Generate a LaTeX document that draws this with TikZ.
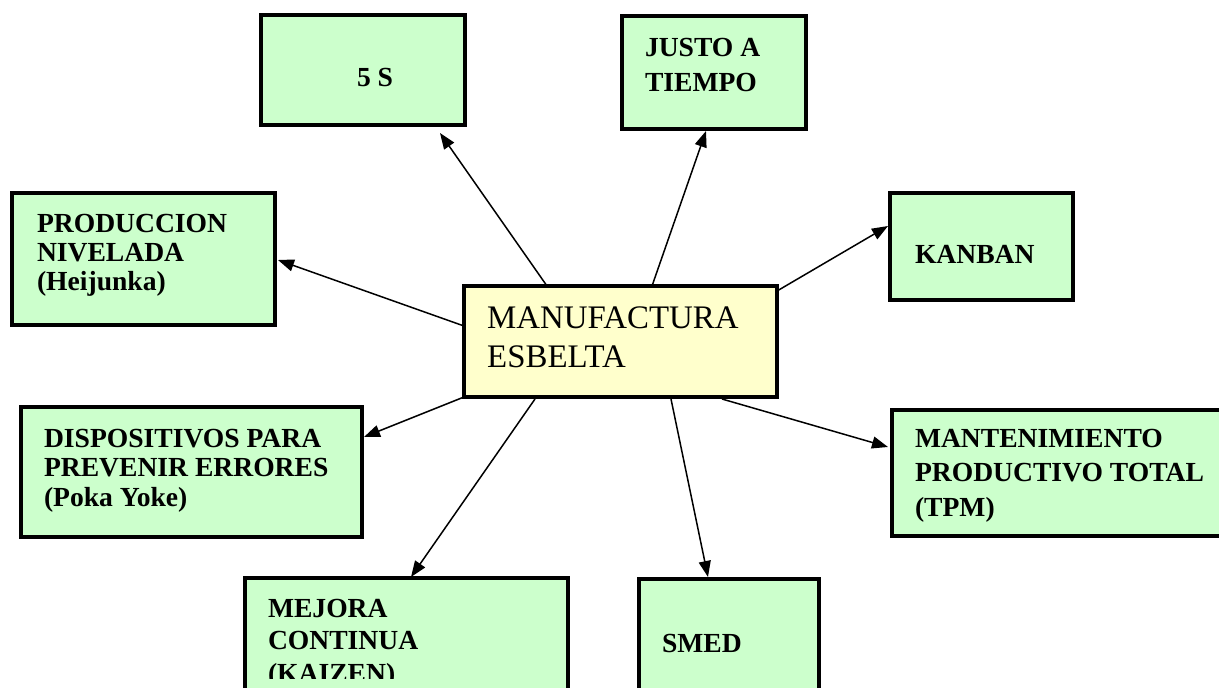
\documentclass[tikz,border=0pt]{standalone}
\usepackage{fontspec}
\setmainfont{Liberation Serif}
\usetikzlibrary{arrows.meta,calc}
\definecolor{boxgreen}{HTML}{CCFFCC}
\definecolor{boxyellow}{HTML}{FFFFCC}
% stacked lines whose baseline is the first line's baseline
\newcommand{\stackedtext}[2]{{\fontsize{27.7}{#1}\selectfont\bfseries\vtop{#2}}}
\begin{document}
\begin{tikzpicture}[x=1bp,y=-1bp,
  conceptbox/.style={draw=black,line width=4bp,fill=boxgreen,rectangle,inner sep=0pt,outer sep=0pt},
  hubbox/.style={conceptbox,fill=boxyellow},
  boxlabel/.style={anchor=base west,inner sep=0pt,outer sep=0pt,font=\fontsize{27.7}{30}\selectfont\bfseries},
  link/.style={line width=1.5bp,-{Triangle[length=16bp,width=12bp]}}]
\useasboundingbox (0,0) rectangle (1219,688);
\clip (0,0) rectangle (1219,688);

% boxes
\node[conceptbox,minimum width=204bp,minimum height=110bp] (b5s) at (363,70) {};
\node[conceptbox,minimum width=184bp,minimum height=113bp] (bjit) at (714,72.5) {};
\node[conceptbox,minimum width=263bp,minimum height=132bp] (bprod) at (143.5,259) {};
\node[conceptbox,minimum width=183bp,minimum height=107bp] (bkan) at (981.5,246.5) {};
\node[hubbox,minimum width=313bp,minimum height=111bp] (ctr) at (620.5,341.5) {};
\node[conceptbox,minimum width=341bp,minimum height=130bp] (bdisp) at (191.5,472) {};
\node[conceptbox,minimum width=338bp,minimum height=126bp] (btpm) at (1061,473) {};
\node[conceptbox,minimum width=323bp,minimum height=122bp] (bmej) at (406.5,639) {};
\node[conceptbox,minimum width=180bp,minimum height=121bp] (bsmed) at (729,639.5) {};

% labels
\node[boxlabel] (t5s) at (357,87) {5 S};
\node[boxlabel] (tjit) at (645,57) {\stackedtext{35}{\hbox{JUSTO A}\hbox{TIEMPO}}};
\node[boxlabel] (tprod) at (37,233) {\stackedtext{29}{\hbox{PRODUCCION}\hbox{NIVELADA}\hbox{(Heijunka)}}};
\node[boxlabel] (tkan) at (915,263) {KANBAN};
\node[anchor=base west,inner sep=0pt] (tctr) at (487,328)
  {{\fontsize{33}{40}\selectfont\vtop{\hbox{MANUFACTURA}\hbox{ESBELTA}}}};
\node[boxlabel] (tdisp) at (44,447) {\stackedtext{30}{\hbox{DISPOSITIVOS PARA}\hbox{PREVENIR ERRORES}\hbox{(Poka Yoke)}}};
\node[boxlabel] (ttpm) at (915,447) {\stackedtext{35}{\hbox{MANTENIMIENTO}\hbox{PRODUCTIVO TOTAL}\hbox{(TPM)}}};
\begin{scope}
  \clip (245,578) rectangle (568,678);
  \node[boxlabel] (tmej) at (268,617) {\stackedtext{33}{\hbox{MEJORA}\hbox{CONTINUA}\hbox{(KAIZEN)}}};
\end{scope}
\node[boxlabel] (tsmed) at (662,652) {SMED};

% connectors from the hub
\draw[link] ($(ctr.north west)+(83,0)$) -- ($(b5s.south west)+(179,8)$);
\draw[link] ($(ctr.north west)+(188,0)$) -- ($(bjit.south west)+(84,2)$);
\draw[link] ($(ctr.north west)+(0,40)$) -- ($(bprod.north east)+(3,67)$);
\draw[link] ($(ctr.north east)+(0,5)$) -- ($(bkan.north west)+(-2,33)$);
\draw[link] (ctr.south west) -- ($(bdisp.north east)+(2,30)$);
\draw[link] ($(ctr.south west)+(258,2)$) -- ($(btpm.north west)+(-4,37)$);
\draw[link] ($(ctr.south west)+(71,2)$) -- ($(bmej.north west)+(166,-1)$);
\draw[link] ($(ctr.south west)+(207,2)$) -- ($(bsmed.north west)+(69,-2)$);
\end{tikzpicture}
\end{document}
